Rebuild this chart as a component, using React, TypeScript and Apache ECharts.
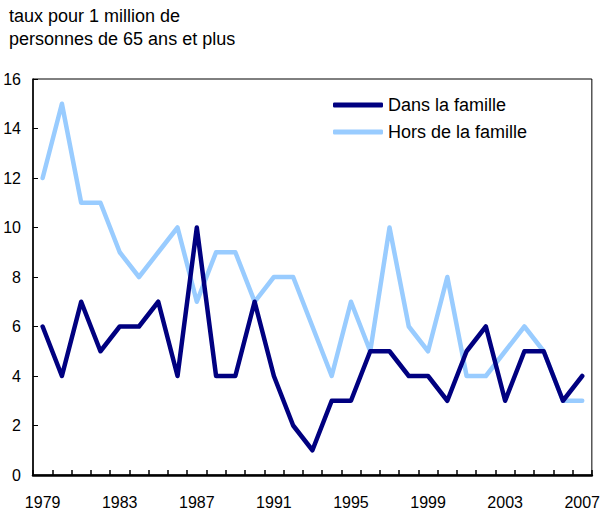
import React, { useEffect, useRef } from "react";
import * as echarts from "echarts";

const years = [
  "1979", "1980", "1981", "1982", "1983", "1984", "1985", "1986", "1987", "1988",
  "1989", "1990", "1991", "1992", "1993", "1994", "1995", "1996", "1997", "1998",
  "1999", "2000", "2001", "2002", "2003", "2004", "2005", "2006", "2007",
];
const dansLaFamille = [6, 4, 7, 5, 6, 6, 7, 4, 10, 4, 4, 7, 4, 2, 1, 3, 3, 5, 5, 4, 4, 3, 5, 6, 3, 5, 5, 3, 4];
const horsDeLaFamille = [12, 15, 11, 11, 9, 8, 9, 10, 7, 9, 9, 7, 8, 8, 6, 4, 7, 5, 10, 6, 5, 8, 4, 4, 5, 6, 5, 3, 3];
const titleLines = ["taux pour 1 million de", "personnes de 65 ans et plus"];
const seriesNames = ["Dans la famille", "Hors de la famille"];

const FONT = "Arial";

export default function App() {
  const ref = useRef<HTMLDivElement>(null);
  useEffect(() => {
    if (!ref.current) return;
    const chart = echarts.init(ref.current, null, { renderer: "svg" });
    chart.setOption({
      animation: false,
      backgroundColor: "#ffffff",
      textStyle: { fontFamily: FONT },
      title: {
        text: titleLines.join("\n"),
        left: 9,
        top: 4,
        padding: 0,
        textStyle: {
          fontFamily: FONT,
          fontSize: 18,
          fontWeight: "normal",
          color: "#000",
          lineHeight: 23.5,
        },
      },
      legend: {
        orient: "vertical",
        left: 333,
        top: 95,
        padding: 0,
        itemWidth: 50,
        itemHeight: 5,
        itemGap: 7,
        icon: "roundRect",
        textStyle: { fontFamily: FONT, fontSize: 18, color: "#000", lineHeight: 20 },
        data: seriesNames,
      },
      grid: {
        left: 33,
        right: 10,
        top: 79,
        bottom: 35,
        show: true,
        borderColor: "#000",
        borderWidth: 1,
        containLabel: false,
      },
      xAxis: {
        type: "category",
        data: years,
        boundaryGap: true,
        axisLine: { show: true, lineStyle: { color: "#000", width: 2.5 } },
        axisTick: { show: true, inside: true, length: 5, interval: 0, lineStyle: { color: "#000", width: 1.5 } },
        axisLabel: { interval: 3, margin: 19, fontSize: 16, color: "#000", fontFamily: FONT },
        splitLine: { show: false },
      },
      yAxis: {
        type: "value",
        min: 0,
        max: 16,
        interval: 2,
        axisLine: { show: true, lineStyle: { color: "#000", width: 1.5 } },
        axisTick: { show: true, inside: true, length: 5, lineStyle: { color: "#000", width: 1 } },
        axisLabel: { margin: 12, fontSize: 16, color: "#000", fontFamily: FONT },
        splitLine: { show: false },
      },
      series: [
        {
          name: seriesNames[1],
          type: "line",
          data: horsDeLaFamille,
          symbol: "none",
          color: "#99CCFF",
          lineStyle: { width: 4.5, color: "#99CCFF", join: "round", cap: "round" },
          z: 2,
        },
        {
          name: seriesNames[0],
          type: "line",
          data: dansLaFamille,
          symbol: "none",
          color: "#000080",
          lineStyle: { width: 4.5, color: "#000080", join: "round", cap: "round" },
          z: 3,
        },
      ],
    });
    return () => chart.dispose();
  }, []);
  return <div ref={ref} style={{ width: 603, height: 510, position: "absolute", left: 0, top: 0 }} />;
}
